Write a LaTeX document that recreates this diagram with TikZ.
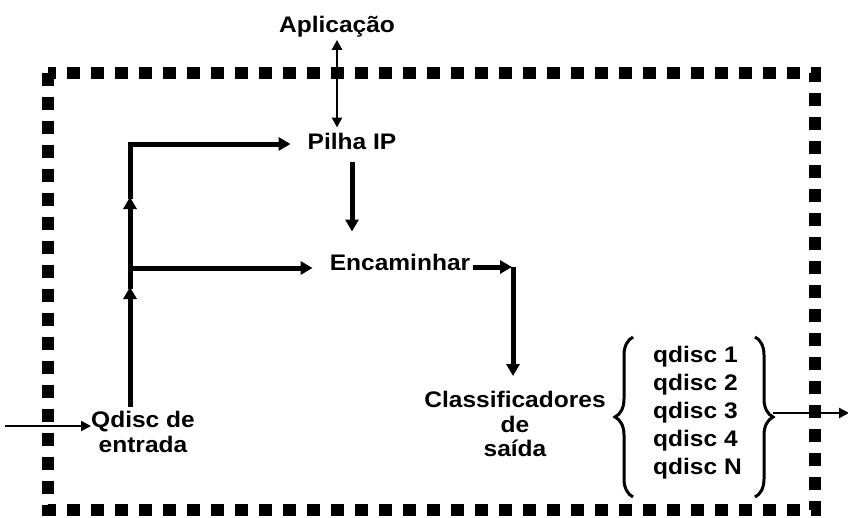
\documentclass[tikz,border=0pt]{standalone}
\usepackage{fontspec}
\setmainfont{Liberation Sans}[FakeStretch=1.09]
\usetikzlibrary{arrows.meta,decorations.pathreplacing}
\begin{document}
\begin{tikzpicture}[x=1pt,y=-1pt,
  lbl/.style={font=\fontsize{22.5}{24.5}\selectfont\bfseries, inner sep=0pt, align=center},
  thickarr/.style={line width=5pt, -{Triangle[length=12pt,width=13pt]}},
  thickline/.style={line width=5pt},
  thinarr/.style={line width=2.5pt, -{Triangle[length=10pt,width=10pt]}},
  border/.style={line width=12pt, dash pattern=on 13pt off 11pt},
  bracestyle/.style={line width=3pt, decorate, decoration={brace, amplitude=18pt}}]
\useasboundingbox (0,0) rectangle (848,517);
% dashed enclosure
\draw[border] (48,73) rectangle (815,510);
% labels
\node[lbl, anchor=base] (apl) at (337,32) {Aplicação};
\node[lbl, anchor=base] (pilha) at (352,149) {Pilha IP};
\node[lbl, anchor=base] (enc) at (400,270) {Encaminhar};
\node[lbl] (cls) at (515,424) {Classificadores\\de\\saída};
\node[lbl] (qin) at (143,432) {Qdisc de\\entrada};
\node[lbl, align=left, anchor=west, font=\fontsize{22.5}{28}\selectfont\bfseries] (qd) at (653,413) {qdisc 1\\qdisc 2\\qdisc 3\\qdisc 4\\qdisc N};
% junctions
\coordinate (tb) at (130,407);
\coordinate (j1) at (130,268);
\coordinate (j2) at (130,144);
\coordinate (c1) at (513,267);
\coordinate (rb) at (773,413);
\coordinate (inS) at (5,426);
\coordinate (outE) at (849,413);
% Aplicacao <-> Pilha IP
\draw[line width=2.5pt, {Triangle[length=10pt,width=10pt]}-{Triangle[length=10pt,width=10pt]}]
  ([yshift=-3pt]apl.south) -- ([yshift=5pt]apl.south |- pilha.north);
% Pilha IP -> Encaminhar
\draw[thickarr] ([yshift=-13pt]pilha.south) -- ([yshift=22pt]pilha.south |- enc.north);
% trunk from Qdisc de entrada
\draw[thickarr] (tb) -- ([yshift=-19pt]j1);
\draw[thickline] ([yshift=-21pt]j1) -- (j1);
\draw[thickarr] (j1) -- ([xshift=-17pt]enc.west |- j1);
\draw[thickarr] (j1) -- ([yshift=-53pt]j2);
\draw[thickarr] ([yshift=-55pt]j2) -- (j2) -- ([xshift=-17pt]pilha.west |- j2);
% Encaminhar -> Classificadores
\draw[thickarr] ([xshift=3pt]enc.east |- c1) -- ([xshift=-1pt]c1);
\draw[thickarr] (c1) -- ([yshift=15pt]c1 |- cls.north);
% braces
\draw[bracestyle] (633,497) -- (633,337);
\draw[bracestyle] (755,337) -- (755,497);
% input and output
\draw[thinarr] (inS) -- (inS -| qin.west);
\draw[thinarr] (rb) -- (outE);
\end{tikzpicture}
\end{document}
